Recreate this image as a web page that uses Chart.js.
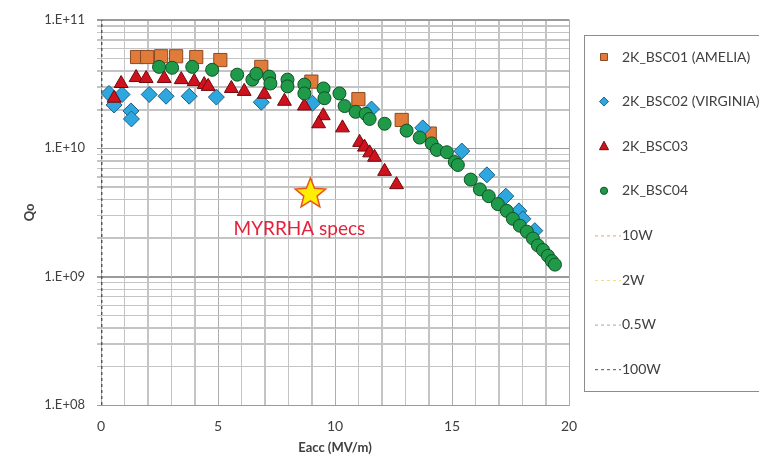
<!DOCTYPE html>
<html>
<head>
<meta charset="utf-8">
<script src="https://cdn.jsdelivr.net/npm/chart.js@4.4.1/dist/chart.umd.min.js"></script>
<style>
  html, body { margin: 0; padding: 0; background: #fff; overflow: hidden; }
  canvas { display: block; }
</style>
</head>
<body>
<canvas id="qoChart" width="759" height="456"></canvas>
<script>
// cavity test results, Qo vs Eacc
var eaccBsc01 = [1.54, 1.97, 2.57, 3.21, 4.07, 5.10, 6.85, 8.99, 11.0, 12.85, 14.05];
var qoBsc01 = [5.13e10, 5.13e10, 5.2e10, 5.2e10, 5.13e10, 4.86e10, 4.3e10, 3.3e10, 2.41e10, 1.66e10, 1.30e10];

var eaccBsc02 = [0.34, 0.56, 0.90, 1.28, 1.30, 2.06, 2.78, 3.77, 4.93, 6.85, 9.04, 11.56, 13.75, 15.42, 16.49, 17.30, 17.86, 18.03, 18.54];
var qoBsc02 = [2.67e10, 2.17e10, 2.62e10, 1.95e10, 1.69e10, 2.62e10, 2.54e10, 2.54e10, 2.50e10, 2.28e10, 2.24e10, 2.02e10, 1.44e10, 9.5e9, 6.2e9, 4.23e9, 3.25e9, 2.82e9, 2.28e9];

var eaccBsc03 = [0.56, 0.86, 1.50, 1.93, 2.70, 3.43, 3.98, 4.41, 4.58, 5.57, 6.12, 6.98, 7.84, 8.69, 9.50, 9.30, 10.32, 11.05, 11.26, 11.48, 11.69, 12.12, 12.63];
var qoBsc03 = [2.45e10, 3.19e10, 3.55e10, 3.49e10, 3.49e10, 3.42e10, 3.30e10, 3.13e10, 3.03e10, 2.92e10, 2.77e10, 2.63e10, 2.32e10, 2.13e10, 1.79e10, 1.55e10, 1.44e10, 1.11e10, 1.02e10, 9.2e9, 8.5e9, 6.6e9, 5.2e9];

var eaccBsc04 = [2.48, 3.04, 3.90, 4.75, 5.82, 6.47, 6.64, 7.19, 7.24, 7.97, 7.97, 8.69, 8.69, 9.51, 9.55, 10.19, 10.41, 10.88, 11.31, 11.48, 12.12, 13.06, 13.62, 14.13, 14.35, 14.78, 15.12, 15.25, 15.80, 16.19, 16.57, 16.96, 17.34, 17.60, 17.90, 18.20, 18.46, 18.67, 18.89, 19.10, 19.27, 19.40];
var qoBsc04 = [4.30e10, 4.23e10, 4.30e10, 4.08e10, 3.74e10, 3.42e10, 3.80e10, 3.61e10, 3.19e10, 3.42e10, 3.03e10, 3.13e10, 2.67e10, 2.92e10, 2.45e10, 2.67e10, 2.13e10, 1.92e10, 1.85e10, 1.69e10, 1.55e10, 1.37e10, 1.21e10, 1.09e10, 9.7e9, 9.3e9, 7.8e9, 7.4e9, 5.7e9, 4.78e9, 4.23e9, 3.67e9, 3.25e9, 2.82e9, 2.49e9, 2.24e9, 1.98e9, 1.75e9, 1.61e9, 1.45e9, 1.32e9, 1.24e9];

// power lines (only the 100W one reaches the plotted range, at the left edge)
var eacc100W = [0.03, 0.03];
var qo100W = [1e8, 1e11];

var specEacc = [8.95];
var specQo = [4.4e9];
var specLabel = 'MYRRHA specs';

var eaccTickLabels = [0, 5, 10, 15, 20];
var qoTickValues = [1e8, 1e9, 1e10, 1e11];
var qoTickLabels = ['1.E+08', '1.E+09', '1.E+10', '1.E+11'];

var MINOR_GRID = '#C4C4C4';
var X_MAJOR_GRID = '#ADADAD';
var Y_MAJOR_GRID = '#9A9A9A';

function toPoints(xs, ys) {
    return xs.map(function(x, i) { return { x: x, y: ys[i] }; });
}

// grid: every 1 MV/m, and 1..9 per decade
var eaccGrid = [];
for (var e = 0; e <= 20; e++) eaccGrid.push(e);
var qoGrid = [];
for (var d = 0; d < qoTickValues.length - 1; d++) {
    for (var m = 1; m < 10; m++) qoGrid.push(qoTickValues[d] * m);
}
qoGrid.push(qoTickValues[qoTickValues.length - 1]);

function isDecade(v) {
    return qoTickValues.some(function(t) { return Math.abs(v - t) / t < 1e-6; });
}

function xGridColor(v) { return v % 5 === 0 ? X_MAJOR_GRID : MINOR_GRID; }
function yGridColor(v) { return isDecade(v) ? Y_MAJOR_GRID : MINOR_GRID; }

// the scales skip the crowded minor ticks, so the minor grid is laid on here
var gridPlugin = {
    id: 'fullGrid',
    beforeDatasetsDraw: function(chart) {
        var ctx = chart.ctx, area = chart.chartArea;
        var xs = chart.scales.x, ys = chart.scales.y;
        ctx.save();
        ctx.setLineDash([]);
        ctx.globalAlpha = 1;
        ctx.lineWidth = 1;
        eaccGrid.forEach(function(v) {
            var p = Math.round(xs.getPixelForValue(v)) + 0.5;
            ctx.strokeStyle = xGridColor(v);
            ctx.beginPath();
            ctx.moveTo(p, area.top);
            ctx.lineTo(p, area.bottom);
            ctx.stroke();
        });
        qoGrid.forEach(function(v) {
            var p = Math.round(ys.getPixelForValue(v)) + 0.5;
            ctx.strokeStyle = yGridColor(v);
            ctx.beginPath();
            ctx.moveTo(area.left - 4, p);
            ctx.lineTo(area.right, p);
            ctx.stroke();
        });
        ctx.restore();
    }
};

var markerPlugin = {
    id: 'specAndLegend',
    afterDatasetsDraw: function(chart) {
        var ctx = chart.ctx;
        var px = chart.scales.x.getPixelForValue(specEacc[0]);
        var py = chart.scales.y.getPixelForValue(specQo[0]);
        // star
        ctx.save();
        ctx.beginPath();
        for (var i = 0; i < 10; i++) {
            var r = i % 2 === 0 ? 16 : 7;
            var a = -Math.PI / 2 + i * Math.PI / 5;
            var sx = px + r * Math.cos(a), sy = py + r * Math.sin(a);
            if (i === 0) ctx.moveTo(sx, sy); else ctx.lineTo(sx, sy);
        }
        ctx.closePath();
        ctx.fillStyle = '#FFEE00';
        ctx.fill();
        ctx.strokeStyle = '#E8541C';
        ctx.lineWidth = 1.5;
        ctx.stroke();
        ctx.fillStyle = '#E5213C';
        ctx.font = '19px Lato';
        ctx.textAlign = 'center';
        ctx.textBaseline = 'middle';
        ctx.fillText(specLabel, px - 11, py + 35);
        ctx.restore();
    },
    afterDraw: function(chart) {
        var ctx = chart.ctx;
        ctx.save();
        ctx.strokeStyle = '#8C8C8C';
        ctx.lineWidth = 1;
        ctx.strokeRect(584.5, 35.5, 220, 356);
        var y0 = 57, step = 44.6;
        chart.data.datasets.forEach(function(ds, i) {
            var y = y0 + i * step;
            ctx.fillStyle = ds.backgroundColor;
            ctx.strokeStyle = ds.borderColor;
            ctx.lineWidth = 1;
            if (ds.showLine) {
                ctx.setLineDash([3, 3]);
                ctx.beginPath();
                ctx.moveTo(595, y + 0.5);
                ctx.lineTo(621, y + 0.5);
                ctx.stroke();
                ctx.setLineDash([]);
            } else {
                ctx.beginPath();
                var cx = 604;
                if (ds.pointStyle === 'rect') {
                    ctx.rect(cx - 3.5, y - 3.5, 7, 7);
                } else if (ds.pointStyle === 'rectRot') {
                    ctx.moveTo(cx - 4.5, y); ctx.lineTo(cx, y - 4.5);
                    ctx.lineTo(cx + 4.5, y); ctx.lineTo(cx, y + 4.5);
                    ctx.closePath();
                } else if (ds.pointStyle === 'triangle') {
                    ctx.moveTo(cx, y - 5); ctx.lineTo(cx + 4.5, y + 3.5);
                    ctx.lineTo(cx - 4.5, y + 3.5); ctx.closePath();
                } else {
                    ctx.arc(cx, y, 3.6, 0, Math.PI * 2);
                }
                ctx.fill();
                ctx.stroke();
            }
            ctx.fillStyle = '#404040';
            ctx.font = '14px Lato';
            ctx.textAlign = 'left';
            ctx.textBaseline = 'middle';
            ctx.fillText(ds.label, 622, y);
        });
        ctx.restore();
    }
};

window.onload = function() {
    var ctx = document.getElementById('qoChart').getContext('2d');
    var qoChart = new Chart(ctx, {
        type: 'scatter',
        data: {
            datasets: [{
                label: '2K_BSC01 (AMELIA)',
                data: toPoints(eaccBsc01, qoBsc01),
                pointStyle: 'rect',
                pointRadius: 9.3,
                backgroundColor: '#E07B39',
                borderColor: '#8A4A22',
                borderWidth: 1,
                order: 3
            }, {
                label: '2K_BSC02 (VIRGINIA)',
                data: toPoints(eaccBsc02, qoBsc02),
                pointStyle: 'rectRot',
                pointRadius: 8,
                backgroundColor: '#2EA7DE',
                borderColor: '#1D5F88',
                borderWidth: 1,
                order: 2
            }, {
                label: '2K_BSC03',
                data: toPoints(eaccBsc03, qoBsc03),
                pointStyle: 'triangle',
                pointRadius: 8,
                backgroundColor: '#D0121F',
                borderColor: '#6E0A0A',
                borderWidth: 1,
                order: 1
            }, {
                label: '2K_BSC04',
                data: toPoints(eaccBsc04, qoBsc04),
                pointStyle: 'circle',
                pointRadius: 6.5,
                backgroundColor: '#1F9A49',
                borderColor: '#0E5226',
                borderWidth: 1,
                order: 0
            }, {
                label: '10W',
                data: [],
                showLine: true,
                pointRadius: 0,
                backgroundColor: '#E9A27E',
                borderColor: '#E9A27E',
                borderDash: [3, 3],
                borderWidth: 1.5
            }, {
                label: '2W',
                data: [],
                showLine: true,
                pointRadius: 0,
                backgroundColor: '#F0DC8A',
                borderColor: '#F0DC8A',
                borderDash: [3, 3],
                borderWidth: 1.5
            }, {
                label: '0.5W',
                data: [],
                showLine: true,
                pointRadius: 0,
                backgroundColor: '#A6A6A6',
                borderColor: '#A6A6A6',
                borderDash: [3, 3],
                borderWidth: 1.5
            }, {
                label: '100W',
                data: toPoints(eacc100W, qo100W),
                showLine: true,
                pointRadius: 0,
                backgroundColor: '#555555',
                borderColor: '#555555',
                borderDash: [3, 3],
                borderWidth: 1.5
            }]
        },
        options: {
            responsive: false,
            animation: false,
            layout: { padding: { top: 12, right: 190, bottom: 0, left: 0 } },
            plugins: {
                legend: { display: false },
                tooltip: { enabled: false }
            },
            scales: {
                x: {
                    type: 'linear',
                    min: 0,
                    max: 20,
                    ticks: {
                        stepSize: 1,
                        autoSkip: false,
                        maxRotation: 0,
                        padding: 13,
                        color: '#404040',
                        font: { family: 'Lato', size: 14 },
                        callback: function(v) { return eaccTickLabels.indexOf(v) >= 0 ? String(v) : ' '; }
                    },
                    grid: {
                        drawTicks: false,
                        color: function(c) { return c.tick ? xGridColor(c.tick.value) : MINOR_GRID; }
                    },
                    border: { color: '#A6A6A6' },
                    title: {
                        display: true,
                        text: 'Eacc (MV/m)',
                        color: '#404040',
                        font: { family: 'Lato', size: 13, weight: 'bold' },
                        padding: { top: 0, bottom: 0 }
                    },
                    afterFit: function(s) { s.height = 51; }
                },
                y: {
                    type: 'logarithmic',
                    min: 1e8,
                    max: 1e11,
                    afterBuildTicks: function(axis) {
                        axis.ticks = qoGrid.map(function(v) { return { value: v }; });
                    },
                    ticks: {
                        autoSkip: false,
                        padding: 12,
                        color: '#404040',
                        font: { family: 'Lato', size: 13 },
                        callback: function(v) {
                            var i = qoTickValues.findIndex(function(t) { return Math.abs(v - t) / t < 1e-6; });
                            return i >= 0 ? qoTickLabels[i] : ' ';
                        }
                    },
                    grid: {
                        tickLength: 4,
                        color: function(c) { return c.tick ? yGridColor(c.tick.value) : MINOR_GRID; }
                    },
                    border: { color: '#A6A6A6' },
                    title: {
                        display: true,
                        text: 'Qo',
                        color: '#404040',
                        font: { family: 'Lato', size: 13, weight: 'bold' },
                        padding: { top: 22, bottom: 0 }
                    },
                    afterFit: function(s) { s.width = 101; }
                }
            }
        },
        plugins: [gridPlugin, markerPlugin]
    });
};
</script>
</body>
</html>
